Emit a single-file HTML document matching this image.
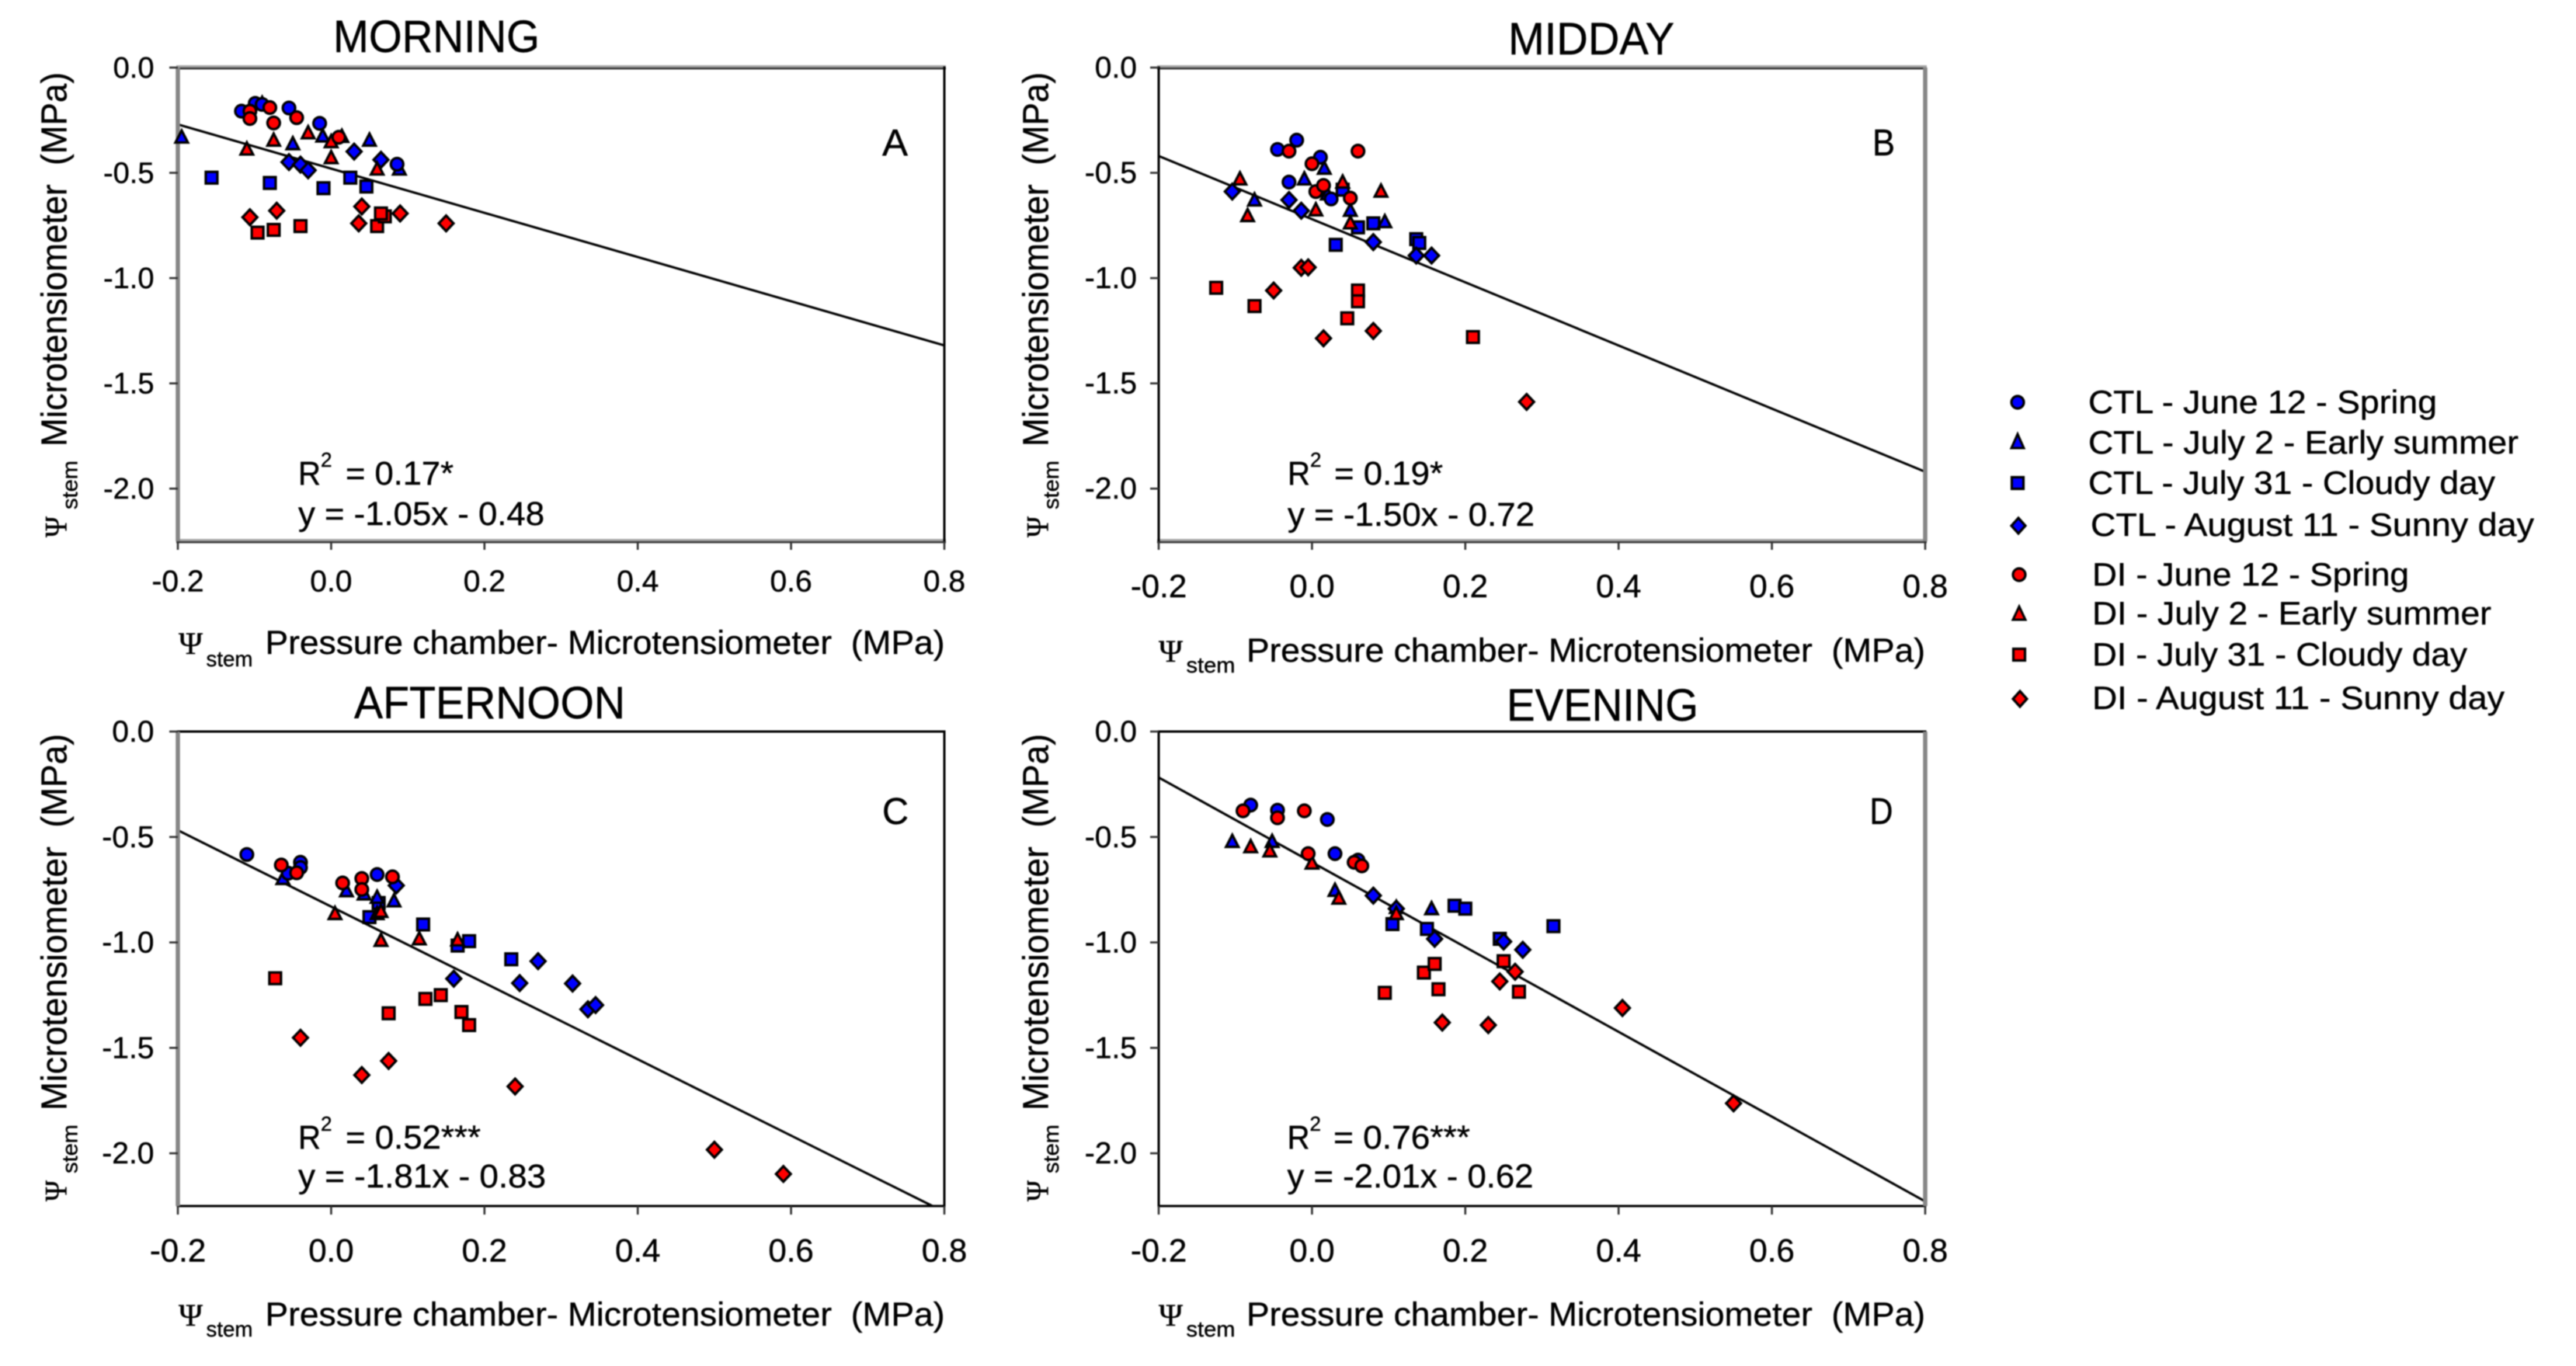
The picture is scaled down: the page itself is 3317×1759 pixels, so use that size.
<!DOCTYPE html>
<html lang="en">
<head>
<meta charset="utf-8">
<title>Stem water potential: microtensiometer vs pressure chamber</title>
<style>
html,body{margin:0;padding:0;background:#fff;}
svg{display:block;filter:blur(0.7px);}
text{font-family:"Liberation Sans",sans-serif;fill:#000;stroke:#000;stroke-width:0.4px;}
.psi{font-family:"Liberation Serif",serif;}
</style>
</head>
<body>
<svg id="figure" xmlns="http://www.w3.org/2000/svg" width="3317" height="1759" viewBox="0 0 3317 1759">
<rect x="0" y="0" width="3317" height="1759" fill="#fff"/>

<g id="panel-a">
  <text x="429" y="67" font-size="58" textLength="266" lengthAdjust="spacingAndGlyphs">MORNING</text>
  <text x="1136" y="200" font-size="48" textLength="33" lengthAdjust="spacingAndGlyphs">A</text>
  <g>
    <text class="psi" transform="translate(85.5,692) rotate(-90)" font-size="40" textLength="27" lengthAdjust="spacingAndGlyphs">Ψ</text>
    <text transform="translate(99.5,656) rotate(-90)" font-size="28" textLength="63" lengthAdjust="spacingAndGlyphs">stem</text>
    <text transform="translate(85.5,575) rotate(-90)" font-size="46" textLength="482" lengthAdjust="spacingAndGlyphs" xml:space="preserve">Microtensiometer  (MPa)</text>
  </g>
  <g>
    <text class="psi" x="230" y="842" font-size="40" textLength="31" lengthAdjust="spacingAndGlyphs">Ψ</text>
    <text x="265.5" y="858" font-size="28" textLength="60" lengthAdjust="spacingAndGlyphs">stem</text>
    <text x="341.5" y="842" font-size="43" textLength="875" lengthAdjust="spacingAndGlyphs" xml:space="preserve">Pressure chamber- Microtensiometer  (MPa)</text>
  </g>
  <g>
    <text x="384" y="624" font-size="43" textLength="29" lengthAdjust="spacingAndGlyphs">R</text>
    <text x="413" y="601" font-size="26">2</text>
    <text x="445" y="624" font-size="43" textLength="139" lengthAdjust="spacingAndGlyphs">= 0.17*</text>
  </g>
  <text x="384" y="676" font-size="43" textLength="317" lengthAdjust="spacingAndGlyphs">y = -1.05x - 0.48</text>
</g>

<g id="panel-b">
  <text x="1942" y="70" font-size="58" textLength="214" lengthAdjust="spacingAndGlyphs">MIDDAY</text>
  <text x="2411" y="200" font-size="48" textLength="29" lengthAdjust="spacingAndGlyphs">B</text>
  <g>
    <text class="psi" transform="translate(1349.5,692) rotate(-90)" font-size="40" textLength="27" lengthAdjust="spacingAndGlyphs">Ψ</text>
    <text transform="translate(1363,656) rotate(-90)" font-size="28" textLength="63" lengthAdjust="spacingAndGlyphs">stem</text>
    <text transform="translate(1349.5,575) rotate(-90)" font-size="46" textLength="482" lengthAdjust="spacingAndGlyphs" xml:space="preserve">Microtensiometer  (MPa)</text>
  </g>
  <g>
    <text class="psi" x="1492" y="852" font-size="40" textLength="31" lengthAdjust="spacingAndGlyphs">Ψ</text>
    <text x="1527.5" y="866" font-size="28" textLength="63" lengthAdjust="spacingAndGlyphs">stem</text>
    <text x="1605" y="852" font-size="43" textLength="874" lengthAdjust="spacingAndGlyphs" xml:space="preserve">Pressure chamber- Microtensiometer  (MPa)</text>
  </g>
  <g>
    <text x="1658" y="624" font-size="43" textLength="29" lengthAdjust="spacingAndGlyphs">R</text>
    <text x="1687" y="601" font-size="26">2</text>
    <text x="1718" y="624" font-size="43" textLength="140" lengthAdjust="spacingAndGlyphs">= 0.19*</text>
  </g>
  <text x="1658" y="677" font-size="43" textLength="318" lengthAdjust="spacingAndGlyphs">y = -1.50x - 0.72</text>
</g>

<g id="panel-c">
  <text x="456" y="925" font-size="58" textLength="349" lengthAdjust="spacingAndGlyphs">AFTERNOON</text>
  <text x="1136" y="1061" font-size="48" textLength="34" lengthAdjust="spacingAndGlyphs">C</text>
  <g>
    <text class="psi" transform="translate(85.5,1547) rotate(-90)" font-size="40" textLength="27" lengthAdjust="spacingAndGlyphs">Ψ</text>
    <text transform="translate(99.5,1511) rotate(-90)" font-size="28" textLength="63" lengthAdjust="spacingAndGlyphs">stem</text>
    <text transform="translate(85.5,1430) rotate(-90)" font-size="46" textLength="485" lengthAdjust="spacingAndGlyphs" xml:space="preserve">Microtensiometer  (MPa)</text>
  </g>
  <g>
    <text class="psi" x="230" y="1707" font-size="40" textLength="31" lengthAdjust="spacingAndGlyphs">Ψ</text>
    <text x="265.5" y="1721" font-size="28" textLength="60" lengthAdjust="spacingAndGlyphs">stem</text>
    <text x="341.5" y="1707" font-size="43" textLength="875" lengthAdjust="spacingAndGlyphs" xml:space="preserve">Pressure chamber- Microtensiometer  (MPa)</text>
  </g>
  <g>
    <text x="384" y="1479" font-size="43" textLength="29" lengthAdjust="spacingAndGlyphs">R</text>
    <text x="413" y="1456" font-size="26">2</text>
    <text x="445" y="1479" font-size="43" textLength="174" lengthAdjust="spacingAndGlyphs">= 0.52***</text>
  </g>
  <text x="384" y="1529" font-size="43" textLength="319" lengthAdjust="spacingAndGlyphs">y = -1.81x - 0.83</text>
</g>

<g id="panel-d">
  <text x="1940" y="928" font-size="58" textLength="247" lengthAdjust="spacingAndGlyphs">EVENING</text>
  <text x="2407.5" y="1061" font-size="48" textLength="30" lengthAdjust="spacingAndGlyphs">D</text>
  <g>
    <text class="psi" transform="translate(1349.5,1547) rotate(-90)" font-size="40" textLength="27" lengthAdjust="spacingAndGlyphs">Ψ</text>
    <text transform="translate(1363,1511) rotate(-90)" font-size="28" textLength="63" lengthAdjust="spacingAndGlyphs">stem</text>
    <text transform="translate(1349.5,1430) rotate(-90)" font-size="46" textLength="485" lengthAdjust="spacingAndGlyphs" xml:space="preserve">Microtensiometer  (MPa)</text>
  </g>
  <g>
    <text class="psi" x="1492" y="1707" font-size="40" textLength="31" lengthAdjust="spacingAndGlyphs">Ψ</text>
    <text x="1527.5" y="1721" font-size="28" textLength="63" lengthAdjust="spacingAndGlyphs">stem</text>
    <text x="1605" y="1707" font-size="43" textLength="874" lengthAdjust="spacingAndGlyphs" xml:space="preserve">Pressure chamber- Microtensiometer  (MPa)</text>
  </g>
  <g>
    <text x="1657.5" y="1479" font-size="43" textLength="29" lengthAdjust="spacingAndGlyphs">R</text>
    <text x="1686.5" y="1456" font-size="26">2</text>
    <text x="1717" y="1479" font-size="43" textLength="176" lengthAdjust="spacingAndGlyphs">= 0.76***</text>
  </g>
  <text x="1657.5" y="1529" font-size="43" textLength="317" lengthAdjust="spacingAndGlyphs">y = -2.01x - 0.62</text>
</g>

<g id="legend">
  <g>
    <circle cx="2598" cy="518" r="8" fill="#0000ff" stroke="#000" stroke-width="3.2"/>
    <text x="2689" y="532" font-size="42" textLength="449" lengthAdjust="spacingAndGlyphs">CTL - June 12 - Spring</text>
  </g>
  <g>
    <polygon points="2598,559 2606,577 2590,577" fill="#0000ff" stroke="#000" stroke-width="3"/>
    <text x="2689" y="584" font-size="42" textLength="554" lengthAdjust="spacingAndGlyphs">CTL - July 2 - Early summer</text>
  </g>
  <g>
    <rect x="2590.5" y="614.5" width="15" height="15" fill="#0000ff" stroke="#000" stroke-width="3.2"/>
    <text x="2689" y="636" font-size="42" textLength="524" lengthAdjust="spacingAndGlyphs">CTL - July 31 - Cloudy day</text>
  </g>
  <g>
    <polygon points="2599,667 2608,677 2599,687 2590,677" fill="#0000ff" stroke="#000" stroke-width="3.2"/>
    <text x="2692" y="690" font-size="42" textLength="571" lengthAdjust="spacingAndGlyphs">CTL - August 11 - Sunny day</text>
  </g>
  <g>
    <circle cx="2600" cy="740" r="8" fill="#ff0000" stroke="#000" stroke-width="3.2"/>
    <text x="2694" y="754" font-size="42" textLength="408" lengthAdjust="spacingAndGlyphs">DI - June 12 - Spring</text>
  </g>
  <g>
    <polygon points="2600,781 2608,798 2592,798" fill="#ff0000" stroke="#000" stroke-width="3"/>
    <text x="2694" y="804" font-size="42" textLength="514" lengthAdjust="spacingAndGlyphs">DI - July 2 - Early summer</text>
  </g>
  <g>
    <rect x="2592.5" y="835.5" width="15" height="15" fill="#ff0000" stroke="#000" stroke-width="3.2"/>
    <text x="2694" y="857" font-size="42" textLength="483" lengthAdjust="spacingAndGlyphs">DI - July 31 - Cloudy day</text>
  </g>
  <g>
    <polygon points="2601,890 2610,900 2601,910 2592,900" fill="#ff0000" stroke="#000" stroke-width="3.2"/>
    <text x="2694" y="913" font-size="42" textLength="531" lengthAdjust="spacingAndGlyphs">DI - August 11 - Sunny day</text>
  </g>
</g>
</svg>

<script>
// Axis ticks
const xTicks = [-0.2, 0, 0.2, 0.4, 0.6, 0.8];
const xTickLabels = ['-0.2', '0.0', '0.2', '0.4', '0.6', '0.8'];
const yTicks = [0, -0.5, -1, -1.5, -2];
const yTickLabels = ['0.0', '-0.5', '-1.0', '-1.5', '-2.0'];

// Regression fits, one per panel (morning, midday, afternoon, evening)
const fitSlopes = [-1.05, -1.50, -1.81, -2.01];
const fitIntercepts = [-0.48, -0.72, -0.83, -0.62];

// MORNING
const morningCtlJune = [[-0.117,-0.207],[-0.099,-0.17],[-0.09,-0.175],[-0.055,-0.192],[-0.015,-0.265],[0.086,-0.459]];
const morningCtlJuly2 = [[-0.195,-0.33],[-0.09,-0.17],[-0.05,-0.362],[-0.011,-0.325],[0.014,-0.327],[0.05,-0.345],[0.089,-0.482]];
const morningCtlJuly31 = [[-0.156,-0.523],[-0.08,-0.548],[-0.01,-0.573],[0.025,-0.523],[0.046,-0.565]];
const morningCtlAugust = [[-0.055,-0.449],[-0.04,-0.461],[-0.03,-0.488],[0.03,-0.399],[0.065,-0.438]];
const morningDiJune = [[-0.106,-0.207],[-0.106,-0.242],[-0.08,-0.19],[-0.075,-0.263],[-0.045,-0.238],[0.01,-0.331]];
const morningDiJuly2 = [[-0.11,-0.387],[-0.075,-0.345],[-0.03,-0.31],[0,-0.352],[0,-0.428],[0.06,-0.482]];
const morningDiJuly31 = [[-0.096,-0.784],[-0.075,-0.771],[-0.04,-0.753],[0.06,-0.753],[0.07,-0.707],[0.065,-0.693]];
const morningDiAugust = [[-0.106,-0.711],[-0.071,-0.68],[0.036,-0.74],[0.04,-0.66],[0.09,-0.693],[0.15,-0.74]];

// MIDDAY
const middayCtlJune = [[-0.045,-0.389],[-0.02,-0.345],[-0.03,-0.544],[0.011,-0.426],[0.025,-0.624]];
const middayCtlJuly2 = [[0.016,-0.478],[-0.01,-0.529],[-0.075,-0.629],[0.05,-0.678],[0.095,-0.732],[0.02,-0.6]];
const middayCtlJuly31 = [[0.031,-0.842],[0.06,-0.759],[0.08,-0.74],[0.136,-0.815],[0.14,-0.833],[0.04,-0.58]];
const middayCtlAugust = [[-0.104,-0.589],[-0.03,-0.629],[-0.014,-0.68],[0.08,-0.829],[0.136,-0.893],[0.156,-0.893]];
const middayDiJune = [[-0.03,-0.397],[0.06,-0.397],[0,-0.457],[0.005,-0.589],[0.015,-0.56],[0.05,-0.62]];
const middayDiJuly2 = [[-0.094,-0.529],[-0.084,-0.703],[0.005,-0.676],[0.04,-0.544],[0.05,-0.738],[0.09,-0.587]];
const middayDiJuly31 = [[-0.125,-1.046],[-0.075,-1.133],[0.06,-1.059],[0.06,-1.11],[0.046,-1.191],[0.21,-1.28]];
const middayDiAugust = [[-0.05,-1.059],[-0.014,-0.951],[-0.005,-0.949],[0.015,-1.286],[0.08,-1.251],[0.28,-1.588]];

// AFTERNOON
const afternoonCtlJune = [[-0.11,-0.583],[-0.04,-0.62],[-0.04,-0.645],[-0.056,-0.672],[0.06,-0.678]];
const afternoonCtlJuly2 = [[-0.063,-0.697],[0.02,-0.755],[0.043,-0.77],[0.06,-0.786],[0.082,-0.803]];
const afternoonCtlJuly31 = [[0.05,-0.88],[0.062,-0.813],[0.12,-0.915],[0.165,-1.015],[0.18,-0.994],[0.235,-1.08]];
const afternoonCtlAugust = [[0.085,-0.73],[0.16,-1.172],[0.246,-1.193],[0.27,-1.089],[0.315,-1.195],[0.335,-1.317],[0.345,-1.297]];
const afternoonDiJune = [[-0.065,-0.633],[-0.045,-0.67],[0.015,-0.718],[0.04,-0.697],[0.04,-0.749],[0.08,-0.689]];
const afternoonDiJuly2 = [[0.005,-0.863],[0.06,-0.863],[0.065,-0.853],[0.065,-0.99],[0.115,-0.983],[0.165,-0.988]];
const afternoonDiJuly31 = [[-0.073,-1.17],[0.075,-1.336],[0.123,-1.268],[0.143,-1.25],[0.17,-1.33],[0.18,-1.392]];
const afternoonDiAugust = [[-0.04,-1.452],[0.04,-1.629],[0.075,-1.562],[0.24,-1.683],[0.5,-1.983],[0.59,-2.098]];

// EVENING
const eveningCtlJune = [[-0.08,-0.349],[-0.045,-0.373],[0.02,-0.417],[0.03,-0.579],[0.06,-0.61]];
const eveningCtlJuly2 = [[-0.104,-0.521],[-0.052,-0.521],[0.03,-0.753],[0.11,-0.834],[0.156,-0.84]];
const eveningCtlJuly31 = [[0.105,-0.913],[0.15,-0.936],[0.186,-0.826],[0.2,-0.84],[0.245,-0.983],[0.315,-0.923]];
const eveningCtlAugust = [[0.08,-0.778],[0.11,-0.84],[0.16,-0.983],[0.25,-0.996],[0.275,-1.035]];
const eveningDiJune = [[-0.09,-0.376],[-0.045,-0.409],[-0.01,-0.376],[-0.005,-0.579],[0.055,-0.62],[0.065,-0.637]];
const eveningDiJuly2 = [[-0.08,-0.546],[-0.055,-0.566],[0,-0.624],[0.035,-0.79],[0.11,-0.863]];
const eveningDiJuly31 = [[0.095,-1.239],[0.146,-1.143],[0.16,-1.102],[0.165,-1.222],[0.25,-1.089],[0.27,-1.234]];
const eveningDiAugust = [[0.17,-1.38],[0.23,-1.392],[0.245,-1.185],[0.265,-1.139],[0.405,-1.311],[0.55,-1.763]];

// Series in drawing order for each panel
const morningSeries = [morningCtlJuly31, morningCtlJuly2, morningCtlAugust, morningCtlJune, morningDiJuly31, morningDiJuly2, morningDiAugust, morningDiJune];
const middaySeries = [middayCtlJuly31, middayCtlJuly2, middayCtlAugust, middayCtlJune, middayDiJuly31, middayDiJuly2, middayDiAugust, middayDiJune];
const afternoonSeries = [afternoonCtlJuly31, afternoonCtlJuly2, afternoonCtlAugust, afternoonCtlJune, afternoonDiJuly31, afternoonDiJuly2, afternoonDiAugust, afternoonDiJune];
const eveningSeries = [eveningCtlJuly31, eveningCtlJuly2, eveningCtlAugust, eveningCtlJune, eveningDiJuly31, eveningDiJuly2, eveningDiAugust, eveningDiJune];
const allSeries = [morningSeries, middaySeries, afternoonSeries, eveningSeries];
const seriesKeys = ['ctl-july-31', 'ctl-july-2', 'ctl-august', 'ctl-june', 'di-july-31', 'di-july-2', 'di-august', 'di-june'];
const seriesShapes = ['square', 'triangle', 'diamond', 'circle', 'square', 'triangle', 'diamond', 'circle'];
const seriesColors = ['#0000ff', '#0000ff', '#0000ff', '#0000ff', '#ff0000', '#ff0000', '#ff0000', '#ff0000'];

// Layout (style only, not data)
const XMIN = -0.2, XMAX = 0.8, YMIN = -2.25, YMAX = 0;
const layouts = [
  {id:'panel-a', l:229, r:1216, t:87, b:697, xFont:39, xBase:761.5, yFont:38, yRight:198.5, top:'band', left:'gray', bottom:'band', right:'dark'},
  {id:'panel-b', l:1492, r:2479, t:87, b:697, xFont:42, xBase:769, yFont:39, yRight:1464, top:'band', left:'dark', bottom:'band', right:'gray'},
  {id:'panel-c', l:229, r:1216, t:942, b:1553, xFont:42, xBase:1624.5, yFont:39, yRight:198.5, top:'dark', left:'gray', bottom:'dark', right:'dark'},
  {id:'panel-d', l:1492, r:2479, t:942, b:1553, xFont:42, xBase:1624.5, yFont:39, yRight:1464, top:'dark', left:'dark', bottom:'dark', right:'gray'}
];

const NS = 'http://www.w3.org/2000/svg';
function make(parent, tag, attrs) {
  const el = document.createElementNS(NS, tag);
  for (const k in attrs) el.setAttribute(k, attrs[k]);
  parent.appendChild(el);
  return el;
}

function drawMarker(parent, shape, px, py, fill) {
  const style = {fill: fill, stroke: '#000', 'stroke-width': 3.2};
  if (shape === 'circle') {
    return make(parent, 'circle', Object.assign({cx: px, cy: py, r: 8}, style));
  }
  if (shape === 'square') {
    return make(parent, 'rect', Object.assign({x: px - 7.5, y: py - 7.5, width: 15, height: 15}, style));
  }
  if (shape === 'triangle') {
    const pts = px + ',' + (py - 8.5) + ' ' + (px + 8) + ',' + (py + 7) + ' ' + (px - 8) + ',' + (py + 7);
    return make(parent, 'polygon', Object.assign({points: pts}, style));
  }
  const pts = px + ',' + (py - 10) + ' ' + (px + 9.5) + ',' + py + ' ' + px + ',' + (py + 10) + ' ' + (px - 9.5) + ',' + py;
  return make(parent, 'polygon', Object.assign({points: pts}, style));
}

function drawEdge(parent, name, x1, y1, x2, y2, kind) {
  const group = make(parent, 'g', {});
  
  
  if (kind === 'band') {
    make(group, 'line', {x1: x1 - 2, y1: y1 - 1.5, x2: x2 + 2, y2: y2 - 1.5, stroke: '#a8a8a8', 'stroke-width': 3});
    make(group, 'line', {x1: x1 - 2, y1: y1 + 1.2, x2: x2 + 2, y2: y2 + 1.2, stroke: '#3c3c3c', 'stroke-width': 2.6});
  } else if (kind === 'gray') {
    make(group, 'line', {x1: x1, y1: y1, x2: x2, y2: y2, stroke: '#868686', 'stroke-width': 5.5});
  } else {
    make(group, 'line', {x1: x1, y1: y1, x2: x2, y2: y2, stroke: '#000', 'stroke-width': 3, 'stroke-linecap': 'square'});
  }
}

layouts.forEach(function (p, i) {
  const root = document.getElementById(p.id);
  const sx = function (v) { return p.l + (v - XMIN) / (XMAX - XMIN) * (p.r - p.l); };
  const sy = function (v) { return p.t + (YMAX - v) / (YMAX - YMIN) * (p.b - p.t); };

  // Regression line, clipped to the plot frame
  const x0 = XMIN;
  let x1 = XMAX;
  const slope = fitSlopes[i], icpt = fitIntercepts[i];
  if (slope * x1 + icpt < YMIN) x1 = (YMIN - icpt) / slope;
  const line = make(root, 'line', {x1: sx(x0), y1: sy(slope * x0 + icpt), x2: sx(x1), y2: sy(slope * x1 + icpt), stroke: '#000', 'stroke-width': 3});
  
  

  // Frame
  drawEdge(root, 'axis-top', p.l, p.t, p.r, p.t, p.top);
  drawEdge(root, 'axis-bottom', p.l, p.b, p.r, p.b, p.bottom);
  drawEdge(root, 'axis-left', p.l, p.t, p.l, p.b, p.left);
  drawEdge(root, 'axis-right', p.r, p.t, p.r, p.b, p.right);

  // X ticks and labels
  xTicks.forEach(function (v, k) {
    const px = sx(v);
    const tick = make(root, 'line', {x1: px, y1: p.b, x2: px, y2: p.b + 11, stroke: '#333', 'stroke-width': 2.6});
    
    
    const label = make(root, 'text', {x: px, y: p.xBase, 'font-size': p.xFont, 'text-anchor': 'middle'});
    
    
    label.textContent = xTickLabels[k];
  });

  // Y ticks and labels
  yTicks.forEach(function (v, k) {
    const py = sy(v);
    const tick = make(root, 'line', {x1: p.l - 11, y1: py, x2: p.l, y2: py, stroke: '#333', 'stroke-width': 2.6});
    
    
    const label = make(root, 'text', {x: p.yRight, y: py + 13, 'font-size': p.yFont, 'text-anchor': 'end'});
    
    
    label.textContent = yTickLabels[k];
  });

  // Points
  allSeries[i].forEach(function (points, s) {
    const group = make(root, 'g', {});
    
    
    points.forEach(function (pt) {
      const mark = drawMarker(group, seriesShapes[s], sx(pt[0]), sy(pt[1]), seriesColors[s]);
      
      
    });
  });
});
</script>
</body>
</html>
